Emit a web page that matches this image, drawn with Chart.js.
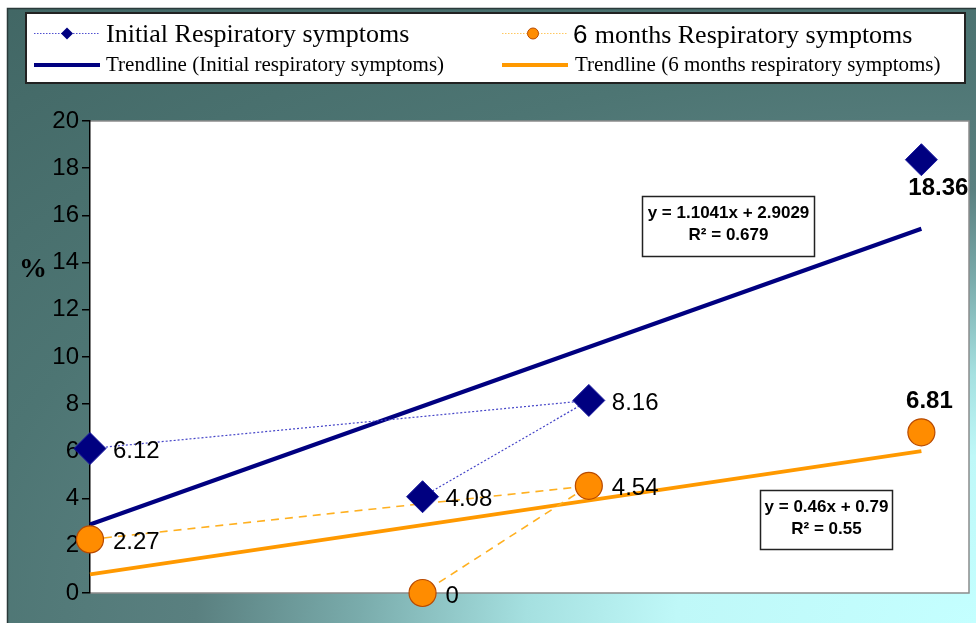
<!DOCTYPE html>
<html>
<head>
<meta charset="utf-8">
<script src="https://cdn.jsdelivr.net/npm/chart.js@4.4.1/dist/chart.umd.min.js"></script>
<style>
  html,body{margin:0;padding:0;background:#fff;}
  #myChart{display:block;}
</style>
</head>
<body>
<canvas id="myChart" width="976" height="623"></canvas>
<script>
// symptom percentages, both series share the same x positions
const xValues=[0,6.81,4.54,11.35];
const initialValues=[6.12,8.16,4.08,18.36];
const sixMonthValues=[2.27,4.54,0,6.81];

// linear fits: [slope, intercept] and the text shown in the boxes
const initialTrend=[1.1041,2.9029];
const sixMonthTrend=[0.46,0.79];
const initialFitText=["y = 1.1041x + 2.9029","R² = 0.679"];
const sixMonthFitText=["y = 0.46x + 0.79","R² = 0.55"];

const yRange=[0,20,2]; // min, max, step
const xRange=[0,12];

const seriesNames=["Initial Respiratory symptoms","6 months Respiratory symptoms"];
const trendNames=["Trendline (Initial respiratory symptoms)","Trendline (6 months respiratory symptoms)"];

// where each value label sits next to its marker
const initialLabelSpots=["right","right","right","below"];
const sixMonthLabelSpots=["right","right","right","above"];

const NAVY="#000080";
const ORANGE="#ff9900";
const SANS="'Liberation Sans', Arial, sans-serif";
const SERIF="'Liberation Serif', 'Times New Roman', serif";

const toPoints=(xs,ys)=>xs.map((x,i)=>({x:x,y:ys[i]}));
const trendPoints=(fit)=>{
    const lo=Math.min(...xValues), hi=Math.max(...xValues);
    return [{x:lo,y:fit[0]*lo+fit[1]},{x:hi,y:fit[0]*hi+fit[1]}];
};

// background, plot frame
const backdrop={
    id:"backdrop",
    beforeDraw(chart){
        const ctx=chart.ctx, W=chart.width, H=chart.height, a=chart.chartArea;
        ctx.save();
        ctx.fillStyle="#fff";
        ctx.fillRect(0,0,W,H);
        // elliptical glow from the bottom right corner
        ctx.save();
        ctx.beginPath();
        ctx.rect(7,8,W-7,H-8);
        ctx.clip();
        ctx.translate(W,H);
        ctx.scale(1,1/1.8);
        const g=ctx.createRadialGradient(0,0,0,0,0,1500);
        g.addColorStop(0,"#c4ffff");
        g.addColorStop(0.2,"#bff8f8");
        g.addColorStop(0.3,"#a5e0e0");
        g.addColorStop(0.41,"#7aacac");
        g.addColorStop(0.52,"#5a8080");
        g.addColorStop(0.68,"#4d7573");
        g.addColorStop(1,"#416664");
        ctx.fillStyle=g;
        ctx.fillRect(-W,-H*1.8,W,H*1.8);
        ctx.restore();
        ctx.strokeStyle="#2a3a3a";
        ctx.lineWidth=1.5;
        ctx.beginPath();
        ctx.moveTo(7.5,H);ctx.lineTo(7.5,8.5);ctx.lineTo(W,8.5);
        ctx.stroke();
        // plot area
        ctx.fillStyle="#fff";
        ctx.fillRect(a.left,a.top,a.right-a.left,a.bottom-a.top);
        ctx.strokeStyle="#8c8c8c";
        ctx.lineWidth=1.5;
        ctx.beginPath();
        ctx.moveTo(a.left,a.top);ctx.lineTo(a.right,a.top);ctx.lineTo(a.right,a.bottom);ctx.lineTo(a.left,a.bottom);
        ctx.stroke();
        ctx.restore();
    }
};

// value labels, fit boxes, legend, axis title
const annotations={
    id:"annotations",
    afterDatasetsDraw(chart){
        const ctx=chart.ctx;
        const drawLabels=(di,vals,spots)=>{
            chart.getDatasetMeta(di).data.forEach((pt,i)=>{
                ctx.save();
                ctx.fillStyle="#000";
                ctx.textBaseline="middle";
                if(spots[i]==="right"){
                    ctx.font="24px "+SANS;
                    ctx.textAlign="left";
                    ctx.fillText(String(vals[i]),pt.x+23,pt.y+3);
                }else if(spots[i]==="below"){
                    ctx.font="bold 24px "+SANS;
                    ctx.textAlign="center";
                    ctx.fillText(String(vals[i]),pt.x+17,pt.y+29);
                }else{
                    ctx.font="bold 24px "+SANS;
                    ctx.textAlign="center";
                    ctx.fillText(String(vals[i]),pt.x+8,pt.y-31);
                }
                ctx.restore();
            });
        };
        drawLabels(0,initialValues,initialLabelSpots);
        drawLabels(1,sixMonthValues,sixMonthLabelSpots);

        const fitBox=(x,y,w,h,lines)=>{
            ctx.save();
            ctx.fillStyle="#fff";
            ctx.fillRect(x,y,w,h);
            ctx.strokeStyle="#222";
            ctx.lineWidth=1.5;
            ctx.strokeRect(x,y,w,h);
            ctx.fillStyle="#000";
            ctx.font="bold 17px "+SANS;
            ctx.textAlign="center";
            ctx.textBaseline="middle";
            ctx.fillText(lines[0],x+w/2,y+17);
            ctx.fillText(lines[1],x+w/2,y+39);
            ctx.restore();
        };
        fitBox(642.5,196.5,172,60,initialFitText);
        fitBox(760.5,490.5,132,59,sixMonthFitText);
    },
    afterDraw(chart){
        const ctx=chart.ctx;
        ctx.save();
        // legend box
        ctx.fillStyle="#fff";
        ctx.fillRect(26,13,939,70);
        ctx.strokeStyle="#222";
        ctx.lineWidth=2;
        ctx.strokeRect(26,13,939,70);

        // initial series sample
        ctx.lineWidth=1;
        ctx.setLineDash([1.5,1.5]);
        ctx.strokeStyle="#5050d0";
        ctx.beginPath();ctx.moveTo(34,33.5);ctx.lineTo(100,33.5);ctx.stroke();
        ctx.setLineDash([]);
        ctx.fillStyle=NAVY;
        ctx.beginPath();ctx.moveTo(67,27.5);ctx.lineTo(73,33.5);ctx.lineTo(67,39.5);ctx.lineTo(61,33.5);ctx.closePath();ctx.fill();
        ctx.lineWidth=4;
        ctx.strokeStyle=NAVY;
        ctx.beginPath();ctx.moveTo(34,65);ctx.lineTo(100,65);ctx.stroke();

        // six month series sample
        ctx.lineWidth=1;
        ctx.setLineDash([1.5,1.5]);
        ctx.strokeStyle="#ffc860";
        ctx.beginPath();ctx.moveTo(502,33.5);ctx.lineTo(568,33.5);ctx.stroke();
        ctx.setLineDash([]);
        ctx.fillStyle="#ff8c00";
        ctx.strokeStyle="#b84a00";
        ctx.lineWidth=1;
        ctx.beginPath();ctx.arc(533,33.5,5.5,0,Math.PI*2);ctx.fill();ctx.stroke();
        ctx.lineWidth=4;
        ctx.strokeStyle=ORANGE;
        ctx.beginPath();ctx.moveTo(502,65);ctx.lineTo(568,65);ctx.stroke();

        ctx.fillStyle="#000";
        ctx.textAlign="left";
        ctx.textBaseline="alphabetic";
        ctx.font="26px "+SERIF;
        ctx.fillText(seriesNames[0],106,42);
        // the leading figure of the second name is set in sans
        const [lead,...rest]=seriesNames[1].split(" ");
        ctx.font="26px "+SANS;
        ctx.fillText(lead,573,43);
        const leadW=ctx.measureText(lead+" ").width;
        ctx.font="26px "+SERIF;
        ctx.fillText(rest.join(" "),573+leadW,43);
        ctx.font="21px "+SERIF;
        ctx.fillText(trendNames[0],106,71);
        ctx.fillText(trendNames[1],575,71);

        // y axis title
        ctx.font="bold 28px "+SERIF;
        ctx.textAlign="center";
        ctx.textBaseline="middle";
        ctx.fillText("%",33,270);
        ctx.restore();
    }
};

const ctx=document.getElementById("myChart").getContext("2d");
const myChart=new Chart(ctx,{
    type:"scatter",
    data:{
        datasets:[
            {
                label:seriesNames[0],
                data:toPoints(xValues,initialValues),
                showLine:true,
                borderColor:"#4646c8",
                borderWidth:1.2,
                borderDash:[2,2],
                pointStyle:"rectRot",
                pointRadius:16,
                pointHoverRadius:16,
                pointBackgroundColor:NAVY,
                pointBorderColor:"#1a1aa0",
                pointBorderWidth:1,
                segment:{borderColor:c=>c.p1DataIndex===3?"transparent":"#4646c8"},
                clip:false,
                order:0,
            },
            {
                label:seriesNames[1],
                data:toPoints(xValues,sixMonthValues),
                showLine:true,
                borderColor:"#ffb020",
                borderWidth:1.6,
                borderDash:[8,6],
                pointStyle:"circle",
                pointRadius:13.5,
                pointHoverRadius:13.5,
                pointBackgroundColor:"#ff8c00",
                pointBorderColor:"#b84a00",
                pointBorderWidth:1.2,
                segment:{borderColor:c=>c.p1DataIndex===3?"transparent":"#ffb020"},
                clip:false,
                order:0,
            },
            {
                label:trendNames[0],
                data:trendPoints(initialTrend),
                showLine:true,
                borderColor:NAVY,
                borderWidth:4,
                pointRadius:0,
                clip:false,
                order:1,
            },
            {
                label:trendNames[1],
                data:trendPoints(sixMonthTrend),
                showLine:true,
                borderColor:ORANGE,
                borderWidth:4,
                pointRadius:0,
                clip:false,
                order:1,
            },
        ],
    },
    options:{
        responsive:false,
        animation:false,
        layout:{autoPadding:false,padding:{top:121,right:7,bottom:30,left:0}},
        plugins:{
            legend:{display:false},
            tooltip:{enabled:false},
        },
        scales:{
            x:{
                type:"linear",
                display:false,
                min:xRange[0],
                max:xRange[1],
            },
            y:{
                min:yRange[0],
                max:yRange[1],
                afterFit:(scale)=>{scale.width=90;},
                ticks:{
                    stepSize:yRange[2],
                    color:"#000",
                    padding:3,
                    font:{family:SANS,size:24},
                },
                grid:{
                    drawOnChartArea:false,
                    drawTicks:true,
                    tickLength:8,
                    color:"#000",
                    lineWidth:1.5,
                },
                border:{color:"#000",width:1.5},
            },
        },
    },
    plugins:[backdrop,annotations],
});
</script>
</body>
</html>
